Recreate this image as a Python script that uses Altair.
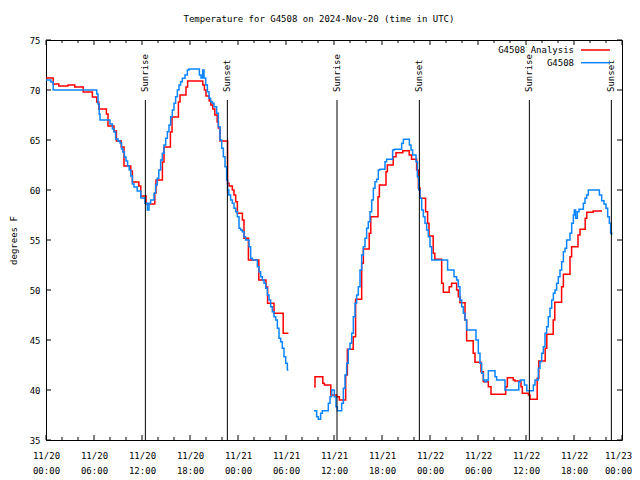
import altair as alt
import pandas as pd

FONT = "DejaVu Sans Mono"
TITLE = "Temperature for G4508 on 2024-Nov-20 (time in UTC)"
series_names = ["G4508 Analysis", "G4508"]
series_colors = ["#ff0000", "#0a84ff"]

# ---- G4508 Analysis (red), hours since 2024-11-20 00:00 UTC, step values ----
analysis_hours_1 = [0, 0.9, 1.6, 2.75, 3.6, 4.65, 5.8, 6.35, 6.6, 7.55, 7.75, 8.5, 8.8, 9.4,
                    9.75, 10.6, 10.8, 11.6, 11.85, 12.5, 13.6, 13.75, 14.55, 14.75, 15.55,
                    15.75, 16.55, 16.75, 17.5, 17.7, 19.6, 19.8, 20.0, 20.4, 20.6, 20.85,
                    21.1, 21.4, 21.55, 21.75, 22.7, 22.875, 23.29, 23.5, 23.71, 23.92, 24.55,
                    24.75, 25.3, 26.6, 27.5, 27.7, 28.5, 29.65, 30.3]
analysis_temps_1 = [71.2, 70.6, 70.4, 70.5, 70.3, 69.8, 69.3, 68.8, 68.1, 67.6, 66.4, 65.9, 64.9, 64.3,
                    62.4, 61.9, 60.8, 60.4, 59.4, 58.6, 59.7, 61.0, 62.8, 64.3, 65.8,
                    67.3, 68.8, 69.5, 70.3, 70.9, 70.5, 70.0, 69.4, 68.9, 68.5, 68.1,
                    67.5, 66.8, 66.2, 64.9, 60.67, 60.4, 60.0, 59.5, 58.83, 57.67, 57.0,
                    55.17, 53.0, 51.0, 50.3, 48.67, 47.67, 45.67, 45.67]
analysis_hours_2 = [33.5, 33.625, 34.6, 34.8, 35.6, 36.33, 36.67, 37.46, 37.67, 38.4, 38.7, 39.46,
                    39.67, 40.4, 40.6, 41.5, 41.67, 42.5, 42.67, 43.4, 43.75, 44.6, 45.4, 45.7,
                    46.33, 46.55, 46.75, 47.45, 47.7, 47.875, 48.4, 48.6, 49.46, 49.67, 50.4,
                    50.7, 51.33, 51.54, 51.75, 52.375, 52.58, 53.4, 53.625, 54.375, 54.67,
                    55.29, 55.625, 57.46, 57.67, 58.4, 58.625, 59.375, 59.54, 60.3, 60.5,
                    61.4, 61.6, 62.4, 62.6, 63.4, 63.6, 64.45, 64.67, 65.5, 65.7, 66.5, 66.75,
                    67.4, 67.6, 68.4, 69.5]
analysis_temps_2 = [40.33, 41.33, 40.67, 40.5, 39.5, 39.33, 39.0, 41.5, 44.07, 45.33, 49.07, 52.67,
                    54.1, 55.67, 57.33, 59.33, 60.5, 61.83, 62.5, 63.33, 63.73, 63.93, 63.5, 63.07,
                    62.0, 60.17, 59.17, 57.83, 56.67, 55.4, 53.67, 53.07, 50.67, 49.77, 50.33,
                    50.67, 50.0, 49.33, 48.73, 47.0, 44.93, 43.67, 42.77, 41.83, 40.83,
                    40.33, 39.57, 40.33, 41.23, 41.0, 40.9, 40.33, 39.67, 39.5, 39.07,
                    41.17, 42.9, 44.17, 45.57, 47.0, 48.77, 50.33, 51.57, 53.33, 54.33, 55.5, 56.07,
                    57.17, 57.77, 57.9, 57.9]

# ---- G4508 station (blue) ----
station_hours_1 = [0, 0.6, 0.9, 6.35, 6.5, 6.65, 6.75, 8.0, 8.3, 8.5, 8.7, 9.0, 9.25, 9.45, 9.6,
                   9.8, 10.0, 10.2, 10.4, 10.6, 10.8, 11.0, 11.4, 11.85, 12.375, 12.67, 12.875,
                   13.08, 13.5, 13.7, 13.9, 14.1, 14.33, 14.54, 14.75, 14.96, 15.17, 15.375,
                   15.58, 15.79, 16.0, 16.2, 16.42, 16.625, 16.83, 17.04, 17.375, 17.67, 17.875,
                   19.17, 19.375, 19.58, 19.75, 19.96, 20.17, 20.375, 20.58, 20.79, 21.0, 21.33,
                   21.54, 21.75, 21.96, 22.17, 22.375, 22.58, 22.7, 22.85, 23.08, 23.29, 23.5,
                   23.71, 23.92, 24.125, 24.33, 24.54, 24.75, 24.96, 25.375, 25.58, 25.79, 26.42,
                   26.625, 26.83, 27.04, 27.25, 27.46, 27.67, 27.875, 28.08, 28.29, 28.5, 28.71,
                   28.92, 29.125, 29.33, 29.54, 29.75, 29.96, 30.17, 30.3]
station_temps_1 = [71.0, 70.8, 70.0, 69.6, 68.6, 67.6, 67.0, 66.6, 66.1, 65.8, 65.1, 64.9, 64.7, 64.1, 63.8,
                   63.3, 62.9, 62.4, 62.0, 61.4, 60.6, 60.3, 59.9, 59.2, 58.67, 58.0, 58.67,
                   59.0, 59.67, 60.5, 61.17, 62.0, 63.0, 63.67, 64.5, 65.17, 65.83, 66.5,
                   67.33, 68.0, 68.67, 69.33, 70.0, 70.5, 70.83, 71.17, 71.5, 72.0, 72.1,
                   71.5, 71.2, 72.0, 71.2, 70.5, 69.83, 69.17, 68.83, 68.67, 68.33, 67.67,
                   66.33, 65.0, 64.17, 63.33, 62.33, 61.0, 60.0, 59.5, 59.0, 58.67, 58.17,
                   57.83, 57.33, 56.17, 56.0, 55.83, 55.33, 55.0, 54.33, 53.17, 53.0, 52.33,
                   51.83, 51.33, 51.0, 50.67, 50.17, 49.5, 49.0, 48.33, 47.83, 47.33, 47.0,
                   46.17, 45.17, 44.83, 44.17, 43.33, 42.67, 42.0, 42.0]
station_hours_2 = [33.5, 33.83, 34.04, 34.33, 34.54, 35.29, 35.5, 35.71, 36.04, 36.25, 36.42, 36.96,
                   37.17, 37.375, 37.58, 37.79, 38.0, 38.21, 38.42, 38.625, 38.83, 39.04, 39.25,
                   39.46, 39.67, 39.875, 40.08, 40.29, 40.5, 40.71, 40.92, 41.125, 41.33, 41.54,
                   41.75, 42.375, 42.58, 43.33, 43.54, 44.46, 44.67, 45.42, 45.625, 45.83, 46.25,
                   46.42, 46.6, 46.75, 46.96, 47.17, 47.375, 47.58, 47.79, 48.0, 48.21, 50.2,
                   51.0, 51.33, 51.54, 51.75, 51.96, 52.17, 52.375, 52.58, 53.75, 54.04, 54.25,
                   54.46, 54.67, 54.875, 55.08, 55.29, 56.125, 56.33, 57.375, 59.1, 59.3, 59.8,
                   60.1, 60.92, 61.125, 61.54, 61.75, 61.96, 62.17, 62.375, 62.58, 62.79, 63.0,
                   63.21, 63.42, 63.625, 63.83, 64.04, 64.25, 64.46, 64.67, 64.875, 65.08, 65.5,
                   65.71, 65.92, 66.04, 66.21, 66.42, 66.625, 67.17, 67.375, 67.58, 67.79, 69.17,
                   69.46, 69.75, 70.0, 70.21, 70.42, 70.58, 70.7]
station_temps_2 = [37.93, 37.33, 37.07, 37.67, 37.93, 38.67, 39.33, 40.0, 39.33, 38.33, 37.93, 38.67,
                   40.17, 41.5, 42.67, 44.07, 44.67, 45.67, 47.33, 48.67, 49.5, 50.33, 52.0,
                   53.5, 54.33, 55.17, 56.17, 56.83, 57.83, 59.0, 60.17, 60.83, 61.07, 62.0,
                   62.07, 62.83, 63.07, 64.0, 64.07, 64.67, 65.07, 64.5, 64.0, 63.5, 62.83,
                   61.33, 60.0, 59.17, 58.0, 57.33, 56.67, 56.0, 55.33, 54.33, 53.0, 52.0,
                   51.33, 51.0, 50.33, 49.0, 48.33, 47.67, 47.0, 46.0, 45.0, 43.67, 42.67,
                   41.67, 41.0, 40.83, 41.0, 41.93, 41.33, 41.0, 40.0, 40.83, 41.0, 40.5,
                   39.93, 40.5, 41.0, 42.17, 42.83, 43.67, 44.33, 45.67, 46.33, 47.33, 48.17,
                   49.0, 49.67, 50.0, 50.67, 51.33, 52.0, 52.83, 53.83, 54.17, 55.0, 55.67,
                   56.67, 57.5, 58.0, 57.17, 57.83, 58.07, 58.67, 59.17, 59.5, 60.0, 59.5,
                   58.93, 58.6, 58.17, 57.33, 56.67, 55.67, 55.5]

sun_hours = [12.42, 22.67, 36.375, 46.67, 60.42, 70.67]
sun_labels = ["Sunrise", "Sunset", "Sunrise", "Sunset", "Sunrise", "Sunset"]

x_label_hours = [0, 6, 12, 18, 24, 30, 36, 42, 48, 54, 60, 66, 72]
x_label_dates = ["11/20"] * 4 + ["11/21"] * 4 + ["11/22"] * 4 + ["11/23"]
x_label_times = ["00:00", "06:00", "12:00", "18:00"] * 3 + ["00:00"]
x_minor_hours = [h for h in range(0, 73, 2) if h % 6]
y_ticks = [35, 40, 45, 50, 55, 60, 65, 70, 75]

W, H = 576, 400
MAJ, MIN = 5, 3


def frame(hours, temps, series, seg):
    return pd.DataFrame({"hour": hours, "temp": temps, "series": series, "segment": seg})


red_df = pd.concat([frame(analysis_hours_1, analysis_temps_1, series_names[0], "a1"),
                    frame(analysis_hours_2, analysis_temps_2, series_names[0], "a2")])
blue_df = pd.concat([frame(station_hours_1, station_temps_1, series_names[1], "s1"),
                     frame(station_hours_2, station_temps_2, series_names[1], "s2")])

xscale = alt.Scale(domain=[0, 72], nice=False, zero=False)
yscale = alt.Scale(domain=[35, 75], nice=False, zero=False)
cscale = alt.Scale(domain=series_names, range=series_colors)

dates_js = "[" + ",".join("'%s'" % d for d in x_label_dates) + "]"
times_js = "[" + ",".join("'%s'" % t for t in x_label_times) + "]"
label_expr = "[%s[round(datum.value/6)], %s[round(datum.value/6)]]" % (dates_js, times_js)

x_axis = alt.Axis(values=x_label_hours, labelExpr=label_expr, ticks=False, domain=False, grid=False,
                  title=None, labelFont=FONT, labelFontSize=9, labelColor="black", labelPadding=11,
                  labelLineHeight=15, labelAngle=0, labelFlush=False, labelOverlap=False,
                  labelOffset={"condition": {"test": "datum.value >= 72", "value": -4}, "value": 0})
y_axis = alt.Axis(values=y_ticks, ticks=False, domain=False, grid=False, title="degrees F",
                  titleFont=FONT, titleFontSize=9, titleFontWeight="normal", titleColor="black",
                  titlePadding=11, labelFont=FONT, labelFontSize=9, labelColor="black",
                  labelPadding=6, labelFlush=False, labelOverlap=False)


def X():
    return alt.X("hour:Q", scale=xscale, axis=x_axis)


def Y():
    return alt.Y("temp:Q", scale=yscale, axis=y_axis)


red = alt.Chart(red_df).mark_line(interpolate="step-after", strokeWidth=1.5).encode(
    x=X(), y=Y(),
    color=alt.Color("series:N", scale=cscale, legend=None),
    detail="segment:N",
)
blue = alt.Chart(blue_df).mark_line(interpolate="step-after", strokeWidth=1.5).encode(
    x=X(), y=Y(),
    color=alt.Color("series:N", scale=cscale, legend=None),
    detail="segment:N",
)

sun_df = pd.DataFrame({"hour": sun_hours, "label": sun_labels})
sun_rules = alt.Chart(sun_df).mark_rule(color="black", strokeWidth=1).encode(
    x=X(), y=alt.value(60), y2=alt.value(H))
sun_text = alt.Chart(sun_df).mark_text(angle=270, align="left", baseline="middle", font=FONT,
                                       fontSize=9, color="black").encode(
    x=X(), y=alt.value(52), text="label:N")

maj_df = pd.DataFrame({"hour": x_label_hours})
min_df = pd.DataFrame({"hour": x_minor_hours})
yt_df = pd.DataFrame({"temp": y_ticks})
ticks = [
    alt.Chart(maj_df).mark_rule(color="black").encode(x=X(), y=alt.value(H), y2=alt.value(H - MAJ)),
    alt.Chart(maj_df).mark_rule(color="black").encode(x=X(), y=alt.value(0), y2=alt.value(MAJ)),
    alt.Chart(min_df).mark_rule(color="black").encode(x=X(), y=alt.value(H), y2=alt.value(H - MIN)),
    alt.Chart(min_df).mark_rule(color="black").encode(x=X(), y=alt.value(0), y2=alt.value(MIN)),
    alt.Chart(yt_df).mark_rule(color="black").encode(y=Y(), x=alt.value(0), x2=alt.value(MAJ)),
    alt.Chart(yt_df).mark_rule(color="black").encode(y=Y(), x=alt.value(W), x2=alt.value(W - MAJ)),
]

legend_layers = []
for i, name in enumerate(series_names):
    ly = 10 + 12.7 * i
    ldf = pd.DataFrame({"series": [name]})
    legend_layers.append(alt.Chart(ldf).mark_text(align="right", baseline="middle", font=FONT,
                                                  fontSize=9, color="black").encode(
        text="series:N", x=alt.value(528), y=alt.value(ly)))
    legend_layers.append(alt.Chart(ldf).mark_rule(strokeWidth=1.5).encode(
        x=alt.value(535), x2=alt.value(564), y=alt.value(ly),
        color=alt.Color("series:N", scale=cscale, legend=None)))

chart = alt.layer(red, blue, sun_rules, sun_text, *ticks, *legend_layers).properties(
    width=W, height=H,
    autosize="none",
    padding={"left": 38, "top": 32, "right": 10, "bottom": 38},
    title=alt.TitleParams(TITLE, font=FONT, fontSize=9, fontWeight="normal", color="black",
                          anchor="middle", offset=12, dx=-15),
).configure_view(stroke="black", strokeWidth=1)

chart.save("out.html", embed_options={"renderer": "svg", "actions": False})
